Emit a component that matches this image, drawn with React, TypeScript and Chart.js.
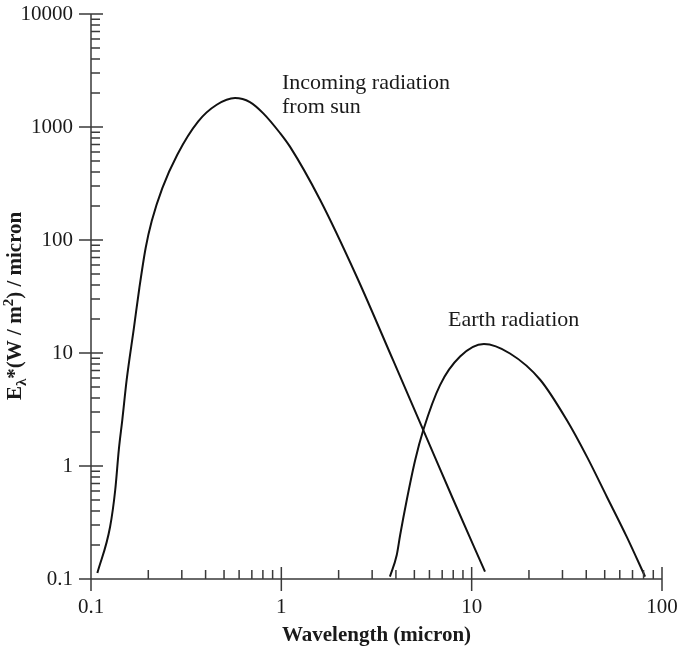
import React, { useEffect, useRef } from "react";
import { Chart, registerables } from "chart.js";

Chart.register(...registerables);

// ---- data ----
const sunWavelength = [0.108, 0.126, 0.134, 0.14, 0.146, 0.154, 0.168, 0.1795, 0.1937, 0.2085, 0.237, 0.284, 0.366, 0.4575, 0.571, 0.684, 0.804, 0.984, 1.11, 1.6, 2.49, 3.88, 5.57, 8.02, 11.75];
const sunIntensity = [0.113, 0.29, 0.61, 1.39, 2.55, 5.8, 16.6, 37.6, 85, 147, 288, 569, 1122, 1574, 1807, 1663, 1321, 885, 670, 226, 47.3, 8.5, 2.08, 0.5, 0.116];

const earthWavelength = [3.72, 4.04, 4.21, 4.56, 5.05, 5.57, 6.82, 8.69, 11.6, 15.9, 22.9, 31.6, 40.3, 51.3, 65.3, 81.5];
const earthIntensity = [0.105, 0.163, 0.245, 0.5, 1.13, 2.08, 5.2, 9.3, 12.0, 9.9, 5.8, 2.55, 1.21, 0.535, 0.236, 0.105];

const xTickValues = [0.1, 1, 10, 100];
const xTickLabels = ["0.1", "1", "10", "100"];
const yTickValues = [0.1, 1, 10, 100, 1000, 10000];
const yTickLabels = ["0.1", "1", "10", "100", "1000", "10000"];

const xTitle = "Wavelength (micron)";
const sunLabel = ["Incoming radiation", "from sun"];
const earthLabel = "Earth radiation";

const SERIF = '"Liberation Serif", "Times New Roman", "DejaVu Serif", serif';
const INK = "#1a1a1a";
const AXIS = "#3a3a3a";

const inwardAxesPlugin = {
  id: "inwardAxes",
  afterDraw(chart: any) {
    const { ctx, chartArea } = chart;
    const xs = chart.scales.x;
    const ys = chart.scales.y;
    const { left, right, top, bottom } = chartArea;
    const major = 12;
    const minor = 9;
    ctx.save();
    ctx.strokeStyle = AXIS;
    ctx.lineWidth = 1.5;
    ctx.beginPath();
    // axis lines
    ctx.moveTo(left, top);
    ctx.lineTo(left, bottom + major);
    ctx.moveTo(left - major, bottom);
    ctx.lineTo(right, bottom);
    // major ticks (cross the axis)
    for (const v of yTickValues) {
      const y = ys.getPixelForValue(v);
      ctx.moveTo(left - major, y);
      ctx.lineTo(left + major, y);
    }
    for (const v of xTickValues) {
      const x = xs.getPixelForValue(v);
      ctx.moveTo(x, bottom - major);
      ctx.lineTo(x, bottom + major);
    }
    // minor ticks (inward)
    for (let i = 0; i < yTickValues.length - 1; i++) {
      for (let m = 2; m <= 9; m++) {
        const y = ys.getPixelForValue(yTickValues[i] * m);
        ctx.moveTo(left, y);
        ctx.lineTo(left + minor, y);
      }
    }
    for (let i = 0; i < xTickValues.length - 1; i++) {
      for (let m = 2; m <= 9; m++) {
        const x = xs.getPixelForValue(xTickValues[i] * m);
        ctx.moveTo(x, bottom);
        ctx.lineTo(x, bottom - minor);
      }
    }
    ctx.stroke();

    // annotations
    ctx.fillStyle = INK;
    ctx.textAlign = "left";
    ctx.textBaseline = "alphabetic";
    ctx.font = `22px ${SERIF}`;
    ctx.fillText(sunLabel[0], 282, 89);
    ctx.fillText(sunLabel[1], 282, 113);
    ctx.fillText(earthLabel, 448, 326);

    // y-axis title with subscript and superscript
    ctx.translate(21, 400);
    ctx.rotate(-Math.PI / 2);
    const big = `bold 21px ${SERIF}`;
    const small = `bold 15px ${SERIF}`;
    let x = 0;
    const part = (t: string, f: string, dy: number) => {
      ctx.font = f;
      ctx.fillText(t, x, dy);
      x += ctx.measureText(t).width;
    };
    part("E", big, 0);
    part("\u03bb", small, 5);
    part("*(W / m", big, 0);
    part("2", small, -8);
    part(") / micron", big, 0);
    ctx.restore();
  },
};

const zeroPad = (s: any) => {
  s.paddingLeft = 0;
  s.paddingRight = 0;
  s.paddingTop = 0;
  s.paddingBottom = 0;
};

export default function App() {
  const ref = useRef<HTMLCanvasElement>(null);

  useEffect(() => {
    if (!ref.current) return;
    const chart = new Chart(ref.current, {
      type: "line",
      data: {
        datasets: [
          {
            label: "sun",
            data: sunWavelength.map((w, i) => ({ x: w, y: sunIntensity[i] })),
            borderColor: "#111",
            borderWidth: 2,
            pointRadius: 0,
            fill: false,
            cubicInterpolationMode: "monotone",
          },
          {
            label: "earth",
            data: earthWavelength.map((w, i) => ({ x: w, y: earthIntensity[i] })),
            borderColor: "#111",
            borderWidth: 2,
            pointRadius: 0,
            fill: false,
            cubicInterpolationMode: "monotone",
          },
        ],
      },
      options: {
        responsive: false,
        devicePixelRatio: 1,
        animation: false,
        layout: { padding: { top: 14, right: 16, left: 0, bottom: 0 } },
        plugins: { legend: { display: false }, tooltip: { enabled: false } },
        scales: {
          x: {
            type: "logarithmic",
            position: "bottom",
            min: 0.1,
            max: 100,
            grid: { display: false, drawTicks: false, tickLength: 0 },
            border: { display: false },
            ticks: {
              font: { family: SERIF, size: 21 },
              color: INK,
              padding: 16,
              maxRotation: 0,
              autoSkip: false,
              callback: (v: any) => {
                const i = xTickValues.indexOf(Number(v));
                return i >= 0 ? xTickLabels[i] : "";
              },
            },
            afterBuildTicks: (s: any) => {
              s.ticks = xTickValues.map((v) => ({ value: v }));
            },
            afterFit: (s: any) => {
              s.height = 71;
              zeroPad(s);
            },
            title: {
              display: true,
              text: xTitle,
              color: INK,
              font: { family: SERIF, size: 21, weight: "bold" },
              padding: { top: 0, bottom: 1.5 },
            },
          },
          y: {
            type: "logarithmic",
            position: "left",
            min: 0.1,
            max: 10000,
            grid: { display: false, drawTicks: false, tickLength: 0 },
            border: { display: false },
            ticks: {
              font: { family: SERIF, size: 21 },
              color: INK,
              padding: 18,
              autoSkip: false,
              callback: (v: any) => {
                const i = yTickValues.indexOf(Number(v));
                return i >= 0 ? yTickLabels[i] : "";
              },
            },
            afterBuildTicks: (s: any) => {
              s.ticks = yTickValues.map((v) => ({ value: v }));
            },
            afterFit: (s: any) => {
              s.width = 91;
              zeroPad(s);
            },
          },
        },
      },
      plugins: [inwardAxesPlugin],
    } as any);
    return () => chart.destroy();
  }, []);

  return (
    <div style={{ position: "absolute", left: 0, top: 0, width: 678, height: 650, background: "#fff" }}>
      <canvas ref={ref} width={678} height={650} style={{ display: "block", width: 678, height: 650 }} />
    </div>
  );
}
